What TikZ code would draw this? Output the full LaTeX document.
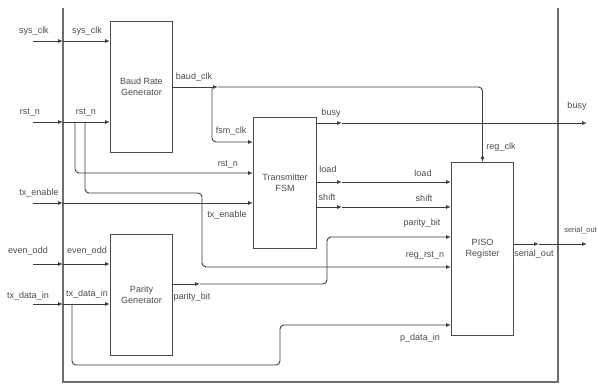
\documentclass[tikz,border=0pt]{standalone}
\usepackage{fontspec}
\setmainfont{Liberation Sans}
\usepackage{tikz}
\usetikzlibrary{
    arrows.meta,
    positioning,
    calc
}
\definecolor{wirecolor}{HTML}{3C3C3C}
\definecolor{blockborder}{HTML}{4C4C4C}
\definecolor{framecolor}{HTML}{6E6E6E}
\definecolor{sigcolor}{HTML}{4A4A4A}
\tikzset{
    block/.style={
        rectangle, draw=blockborder, fill=white,
        line width=1pt, minimum width=62pt,
        anchor=north west, align=center, inner sep=0pt,
        font=\fontsize{9}{10.5}\selectfont, text=sigcolor
    },
    wire/.style={
        -{Latex[length=5pt,width=4pt]}, color=wirecolor,
        line width=0.9pt, rounded corners=4pt
    },
    sig/.style={
        font=\fontsize{9}{10}\selectfont, text=sigcolor, inner sep=0pt
    },
    frame/.style={
        draw=framecolor, line width=1.3pt
    },
}

\begin{document}
\begin{tikzpicture}[x=1pt, y=-1pt]
    \useasboundingbox (0,0) rectangle (598,385);
    \clip (0,0) rectangle (598,385);

    % Outer frame (open at the top)
    \coordinate (frame nw) at (63,8);
    \coordinate (frame se) at (558,382);
    \draw[frame] (frame nw) |- (frame se) -- (frame se |- frame nw);

    % Blocks
    \node[block, minimum height=131pt] (baud) at (110,21) {Baud Rate\\Generator};
    \node[block, minimum width=63pt, minimum height=131pt] (fsm) at (253,117) {Transmitter\\FSM};
    \node[block, minimum height=173pt] (piso) at (451,162) {PISO\\Register};
    \node[block, minimum height=121pt] (parity) at (110,234) {Parity\\Generator};

    % Top-level inputs
    \coordinate (sysclk) at (33,41);
    \coordinate (rstn) at (33,122);
    \coordinate (txen) at (33,203);
    \coordinate (evenodd) at (33,264);
    \coordinate (txdata) at (33,304);
    \foreach \p in {sysclk, rstn, txen, evenodd, txdata}
        \draw[wire] (\p) -- (\p -| frame nw);

    \draw[wire] (sysclk -| frame nw) -- (sysclk -| baud.west);
    \draw[wire] (rstn -| frame nw) -- (rstn -| baud.west);
    \draw[wire] (txen -| frame nw) -- (txen -| fsm.west);
    \draw[wire] (evenodd -| frame nw) -- (evenodd -| parity.west);
    \draw[wire] (txdata -| frame nw) -- (txdata -| parity.west);

    % Reset fan-out
    \coordinate (rst tapA) at (75,122);
    \coordinate (rst tapB) at (85,122);
    \draw[wire] (rst tapA) |- (fsm.west |- 0,173);
    \draw[wire] (rst tapB) |- (202,193) |- (piso.west |- 0,267);

    % Baud clock
    \coordinate (clk mid) at (218,87);
    \coordinate (clk tap) at (212,87);
    \draw[wire] (baud.east |- clk mid) -- (clk mid);
    \draw[wire] (clk mid) -| (piso.north);
    \draw[wire] (clk tap) |- (fsm.west |- 0,142);

    % FSM outputs
    \coordinate (busy mid) at (342,123);
    \coordinate (load mid) at (342,182);
    \coordinate (shift mid) at (342,207);
    \coordinate (busy out) at (587,123);
    \draw[wire] (fsm.east |- busy mid) -- (busy mid);
    \draw[wire] (busy mid) -- (busy out);
    \draw[wire] (fsm.east |- load mid) -- (load mid);
    \draw[wire] (load mid) -- (piso.west |- load mid);
    \draw[wire] (fsm.east |- shift mid) -- (shift mid);
    \draw[wire] (shift mid) -- (piso.west |- shift mid);

    % Parity bit
    \coordinate (par mid) at (200,284);
    \draw[wire] (parity.east |- par mid) -- (par mid);
    \draw[wire] (par mid) -| (327,237) -- (piso.west |- 0,237);

    % Parallel data
    \coordinate (data tap) at (72,304);
    \draw[wire] (data tap) |- (280,365) |- (piso.west |- 0,325);

    % Serial output
    \coordinate (ser mid) at (539,244);
    \coordinate (ser out) at (587,244);
    \draw[wire] (piso.east |- ser mid) -- (ser mid);
    \draw[wire] (ser mid) -- (ser out);

    % Signal names
    \node[sig] (l sysclk a) at (34,31) {sys\_clk};
    \node[sig] (l sysclk b) at (87,31) {sys\_clk};
    \node[sig] (l rstn a) at (30,112) {rst\_n};
    \node[sig] (l rstn b) at (86,112) {rst\_n};
    \node[sig] (l txen a) at (39,193) {tx\_enable};
    \node[sig] (l evenodd a) at (28,251) {even\_odd};
    \node[sig] (l evenodd b) at (87,251) {even\_odd};
    \node[sig] (l txdata a) at (28,296) {tx\_data\_in};
    \node[sig] (l txdata b) at (87,294) {tx\_data\_in};
    \node[sig] (l baudclk) at (194,77) {baud\_clk};
    \node[sig] (l fsmclk) at (231,131) {fsm\_clk};
    \node[sig] (l fsmrst) at (228,164) {rst\_n};
    \node[sig] (l fsmen) at (227,215) {tx\_enable};
    \node[sig] (l busy a) at (331,113) {busy};
    \node[sig] (l busy b) at (577,106) {busy};
    \node[sig] (l load a) at (328,169) {load};
    \node[sig] (l load b) at (423,173) {load};
    \node[sig] (l shift a) at (327,197) {shift};
    \node[sig] (l shift b) at (424,198) {shift};
    \node[sig] (l par a) at (192,297) {parity\_bit};
    \node[sig] (l par b) at (422,223) {parity\_bit};
    \node[sig] (l regrst) at (425,256) {reg\_rst\_n};
    \node[sig] (l pdata) at (420,338) {p\_data\_in};
    \node[sig] (l regclk) at (501,147) {reg\_clk};
    \node[sig] (l ser a) at (534,254) {serial\_out};
    \node[sig, font=\fontsize{7.5}{9}\selectfont, anchor=east] (l ser b) at (597,231) {serial\_out};
\end{tikzpicture}
\end{document}
